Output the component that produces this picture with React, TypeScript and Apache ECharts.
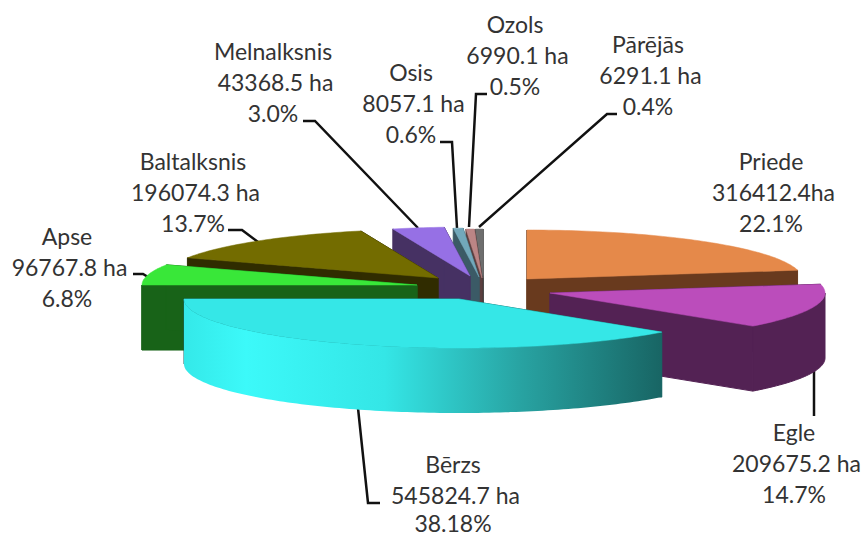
import React, { useEffect, useRef } from "react";
import * as echarts from "echarts";

const species = ["Priede", "Egle", "Bērzs", "Apse", "Baltalksnis", "Melnalksnis", "Osis", "Ozols", "Pārējās"];
const areas = [316412.4, 209675.2, 545824.7, 96767.8, 196074.3, 43368.5, 8057.1, 6990.1, 6291.1];
const areaTexts = ["316412.4ha", "209675.2 ha", "545824.7 ha", "96767.8 ha", "196074.3 ha", "43368.5 ha", "8057.1 ha", "6990.1 ha", "6291.1 ha"];
const shares = ["22.1%", "14.7%", "38.18%", "6.8%", "13.7%", "3.0%", "0.6%", "0.5%", "0.4%"];

// Layout (separate from data)
const drawOrder = [8, 7, 6, 5, 4, 3, 0, 1, 2];
const apex = [[527, 279], [550, 293], [459, 299], [417, 285], [438, 278], [470, 276], [479, 277], [482, 278], [483, 278]];
const topColors = ["#E5894A", "#BB4DBB", "#35E7E7", "#39E739", "#736C00", "#9670E5", "#72A8BB", "#BC8585", "#6E6E6E"];
const wallColors = ["#693A1E", "#532254", "#186564", "#186318", "#302C00", "#463163", "#3B5A66", "#5A3F3F", "#333333"];
const RX = 275, RY = 49, DEPTH = 65;
const labelAnchors = [[771, 161], [794, 432], [453, 464], [67, 236], [193, 161], [273, 51], [411, 72], [515, 24], [648, 44]];
const VALUE_LINE_SHIFT = 2.5;
const LOWEST_TEXT_Y = 523;
const leaders: (number[][] | null)[] = [
  null,
  [[814, 368], [814, 416]],
  [[358, 408], [368, 503], [380, 503]],
  [[133, 274], [143, 274], [148, 277]],
  [[228, 230], [242, 230], [258, 242]],
  [[303, 121], [315, 121], [418, 228]],
  [[440, 142], [452, 142], [457, 228]],
  [[487, 94], [476, 94], [469, 227]],
  [[617, 114], [607, 114], [479, 227]],
];

const total = areas.reduce((a, b) => a + b, 0);
const starts = areas.map((_, i) => (areas.slice(0, i).reduce((a, b) => a + b, 0) / total) * Math.PI * 2);

function App() {
  const ref = useRef<HTMLDivElement>(null);
  useEffect(() => {
    document.body.style.margin = "0";
    const chart = echarts.init(ref.current!, null, { renderer: "svg" });

    const renderItem = (_params: any, api: any) => {
      const value = api.value(0) as number;
      const idx = api.value(1) as number;
      const [ax, ay] = apex[idx];
      const a0 = starts[idx];
      const a1 = a0 + (value / total) * Math.PI * 2;
      const pt = (t: number, d = 0) => [ax + RX * Math.sin(t), ay - RY * Math.cos(t) + d];
      const arc = (s: number, e: number, d = 0) => {
        const n = Math.max(2, Math.ceil((e - s) / 0.02));
        const out: number[][] = [];
        for (let k = 0; k <= n; k++) out.push(pt(s + ((e - s) * k) / n, d));
        return out;
      };
      const wall = wallColors[idx];
      const children: any[] = [];
      const cut = (t: number) => ({
        type: "polygon",
        shape: { points: [[ax, ay], pt(t), pt(t, DEPTH), [ax, ay + DEPTH]] },
        style: { fill: wall, stroke: wall, lineWidth: 1 },
      });
      children.push(cut(a0), cut(a1));
      // Outer wall: the part of the rim that faces the viewer
      const fs = Math.max(a0, Math.PI / 2);
      const fe = Math.min(a1, (Math.PI * 3) / 2);
      if (fe > fs) {
        const isBerzs = idx === 2;
        const fill = isBerzs
          ? new echarts.graphic.LinearGradient(0, 0, 1, 0, [
              { offset: 0, color: "#34E9E9" },
              { offset: 0.13, color: "#3CF9F9" },
              { offset: 0.42, color: "#34E6E6" },
              { offset: 0.7, color: "#28A4A3" },
              { offset: 1, color: "#186564" },
            ])
          : wall;
        children.push({
          type: "polygon",
          shape: { points: [...arc(fs, fe), ...arc(fs, fe, DEPTH).reverse()] },
          style: isBerzs ? { fill } : { fill, stroke: wall, lineWidth: 1 },
        });
      }
      children.push({
        type: "polygon",
        shape: { points: [[ax, ay], ...arc(a0, a1)] },
        style: { fill: topColors[idx], stroke: topColors[idx], lineWidth: 0.5 },
      });
      return { type: "group", children };
    };

    const textStyle = { fontFamily: "Lato", fontSize: 23, fill: "#333333", textAlign: "center", textVerticalAlign: "middle" };
    const graphics: any[] = [];
    species.forEach((name, i) => {
      const [x, y] = labelAnchors[i];
      [name, areaTexts[i], shares[i]].forEach((t, k) => {
        graphics.push({
          type: "text",
          x: x + (k === 1 ? VALUE_LINE_SHIFT : 0),
          y: Math.min(y + k * 31, LOWEST_TEXT_Y),
          silent: true,
          style: { ...textStyle, text: t },
        });
      });
      const l = leaders[i];
      if (l) {
        graphics.push({
          type: "polyline",
          silent: true,
          shape: { points: l },
          style: { stroke: "#111111", lineWidth: 2.5, fill: "none" },
        });
      }
    });

    chart.setOption({
      animation: false,
      backgroundColor: "#FFFFFF",
      series: [
        {
          type: "custom",
          coordinateSystem: "none",
          silent: true,
          renderItem,
          data: drawOrder.map((i) => [areas[i], i]),
        },
      ],
      graphic: graphics,
    });
    return () => chart.dispose();
  }, []);
  return <div ref={ref} style={{ position: "absolute", left: 0, top: 0, width: 864, height: 536 }} />;
}

export default App;
